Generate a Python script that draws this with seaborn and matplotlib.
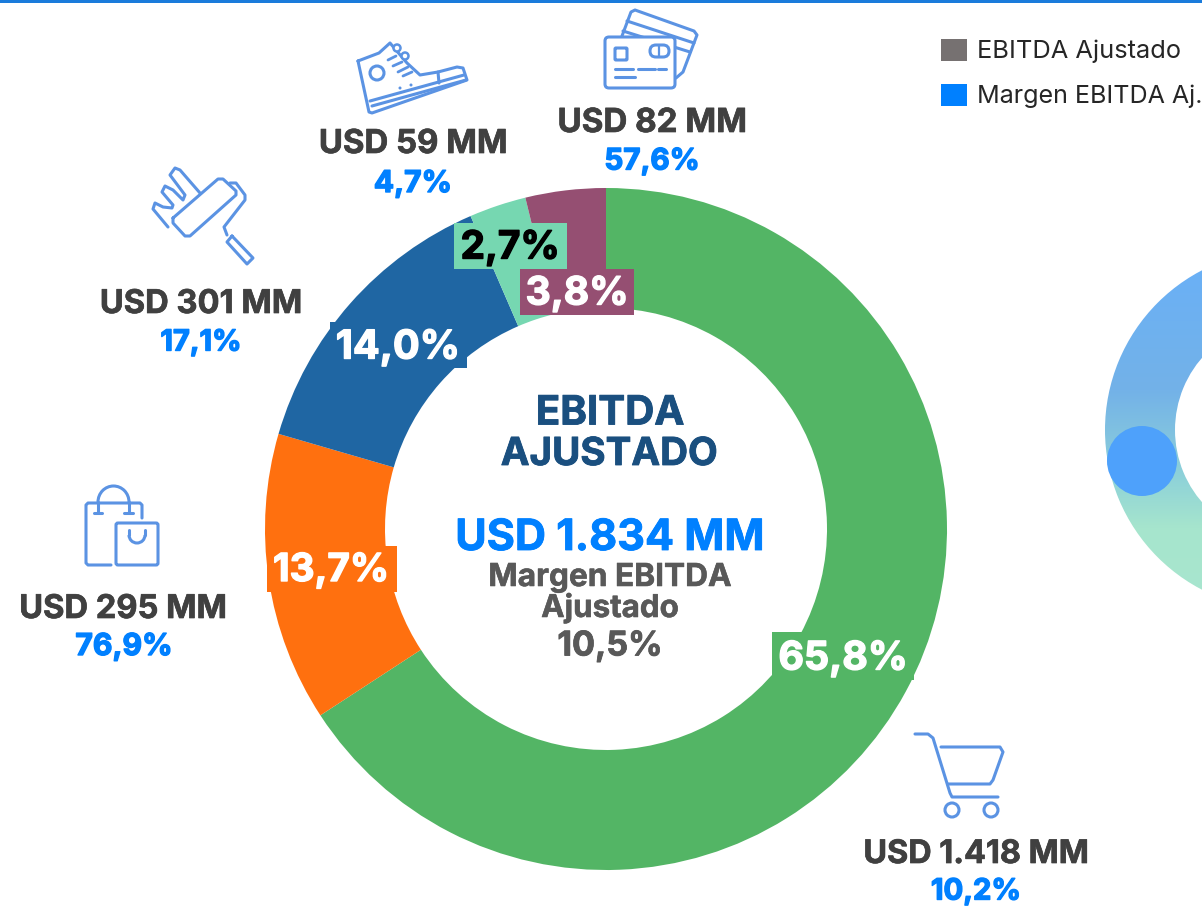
import numpy as np
import matplotlib.pyplot as plt
import matplotlib.patheffects as pe
import seaborn as sns
from matplotlib.colors import LinearSegmentedColormap
from matplotlib.patches import Arc, Circle, Rectangle, Wedge, FancyBboxPatch

sns.set_theme(style="white")
plt.rcParams['font.family'] = ['Inter', 'DejaVu Sans']

# Data
segments = ["Supermercados", "Tiendas", "Mejoramiento", "Calzado", "Financiero"]
share = [65.8, 13.7, 14.0, 2.7, 3.8]
share_labels = ["65,8%", "13,7%", "14,0%", "2,7%", "3,8%"]
ebitda_labels = ["USD 1.418 MM", "USD 295 MM", "USD 301 MM", "USD 59 MM", "USD 82 MM"]
margin_labels = ["10,2%", "76,9%", "17,1%", "4,7%", "57,6%"]
colors = sns.color_palette(["#53b565", "#ff700f", "#1f66a3", "#76d7b1", "#954f72"])
legend_names = ["EBITDA Ajustado", "Margen EBITDA Aj."]
legend_colors = ["#767171", "#0080ff"]

DARK = "#404040"
BLUE = "#0080ff"
ICON = "#5b93e3"

fig = plt.figure(figsize=(12.02, 9.06), dpi=100)
ax = fig.add_axes([0, 0, 1, 1])

# gradient ring cut by the right edge
ramp = np.linspace(0, 1, 256).reshape(-1, 1)
cmap = LinearSegmentedColormap.from_list(
    "ring", [(0, "#69b0f8"), (0.38, "#73b2e8"), (0.62, "#8fd3d8"), (0.75, "#a6e5cd"), (1, "#a9e6cf")])
img = ax.imshow(ramp, cmap=cmap, extent=(1100, 1202, 620, 250), aspect="auto", zorder=1)
ring = Wedge((1285, 430), 180, 0, 360, width=70, transform=ax.transData, fc="none", ec="none")
ax.add_patch(ring)
img.set_clip_path(ring)
ax.add_patch(Circle((1142, 461), 35, fc="#4ea1fb", ec="none", zorder=2))

# donut, y axis is flipped so it runs counterclock from -90
ax.pie(
    share,
    colors=colors,
    startangle=-90,
    counterclock=True,
    center=(606, 529),
    radius=341,
    wedgeprops=dict(width=120, linewidth=0, zorder=3),
    frame=True,
)

ax.set_xlim(0, 1202)
ax.set_ylim(906, 0)
ax.set_aspect("auto")
ax.axis("off")

# top line
ax.add_patch(Rectangle((0, 0), 1202, 3, fc="#1a7bdb", ec="none", zorder=5))


def fit_text(x, y, s, width, color, heavy=0.0):
    t = ax.text(x, y - 1, s, ha="center", va="center_baseline", color=color, weight="bold",
                fontsize=20, zorder=8)
    bb = t.get_window_extent(fig.canvas.get_renderer())
    t.set_fontsize(20 * width / bb.width)
    if heavy:
        t.set_path_effects([pe.withStroke(linewidth=heavy, foreground=color)])
    return t


# share labels with boxes
boxes = [(772, 632, 142, 48), (267, 546, 130, 46), (330, 322, 137, 46), (454, 223, 113, 46), (520, 269, 114, 46)]
label_xy = [(843, 656), (331, 568), (398, 345), (510, 245), (577, 291)]
label_w = [129, 116, 124, 99, 103]
label_col = ["white", "white", "white", "black", "white"]
for lab, box, xy, w, col, fill in zip(share_labels, boxes, label_xy, label_w, label_col, colors):
    ax.add_patch(Rectangle(box[:2], box[2], box[3], fc=fill, ec="none", zorder=6))
    fit_text(xy[0], xy[1], lab, w, col, heavy=1.0)

# outer labels
ebitda_xy = [(976, 852), (123, 607), (201, 302), (413, 142), (652, 121)]
ebitda_w = [226, 208, 203, 189, 190]
margin_xy = [(976, 890), (124, 645), (201, 341), (413, 182), (652, 160)]
margin_w = [90, 97, 81, 78, 95]
for lab, xy, w in zip(ebitda_labels, ebitda_xy, ebitda_w):
    fit_text(xy[0], xy[1], lab, w, DARK, heavy=0.5)
for lab, xy, w in zip(margin_labels, margin_xy, margin_w):
    fit_text(xy[0], xy[1], lab, w, BLUE, heavy=1.0)

# centre text
fit_text(610, 411, "EBITDA", 149, "#1a4f7f", heavy=0.6)
fit_text(609, 452, "AJUSTADO", 217, "#1a4f7f", heavy=0.6)
fit_text(610, 535, "USD 1.834 MM", 310, BLUE, heavy=0.6)
fit_text(610, 575, "Margen EBITDA", 244, "#595959", heavy=0.4)
fit_text(610, 606, "Ajustado", 138, "#595959", heavy=0.4)
fit_text(610, 644, "10,5%", 105, "#595959", heavy=0.6)

# legend
legend_y = [50, 95]
legend_w = [204, 226]
for name, col, y, w in zip(legend_names, legend_colors, legend_y, legend_w):
    ax.add_patch(Rectangle((941, y - 11), 26, 22, fc=col, ec="none", zorder=6))
    t = ax.text(977, y - 1, name, ha="left", va="center_baseline", fontsize=17, color="#262626", zorder=8)
    bb = t.get_window_extent(fig.canvas.get_renderer())
    t.set_fontsize(17 * w / bb.width)


# icons
def stroke(pts, lw=2.2):
    ax.plot(*zip(*pts), color=ICON, lw=lw, solid_capstyle="round", solid_joinstyle="round", zorder=7)


def round_box(x, y, w, h, r=3, lw=2.2):
    ax.add_patch(FancyBboxPatch((x, y), w, h, boxstyle=f"round,pad=0,rounding_size={r}",
                                fc="white", ec=ICON, lw=lw, zorder=7))


def ring_mark(x, y, r, lw=2.2):
    ax.add_patch(Circle((x, y), r, fc="white", ec=ICON, lw=lw, zorder=7))


# cart
stroke([(915, 734), (928, 734), (933, 738), (950, 793), (952, 797), (998, 797)])
stroke([(941, 747), (1000, 747), (1003, 752), (993, 780), (990, 784), (948, 784)])
ring_mark(952, 810, 7)
ring_mark(991, 810, 7)

# cards
stroke([(622, 36), (631, 12), (635, 10), (694, 31), (697, 35), (683, 72), (676, 78)])
stroke([(627, 21), (694, 43)])
stroke([(623, 31), (690, 52)])
round_box(605, 37, 70, 51, 4)
round_box(615, 48, 12, 12, 1)
round_box(650, 45, 19, 12, 6)
stroke([(659, 46), (659, 56)], 1.6)
stroke([(615, 69), (633, 69)])
stroke([(638, 69), (655, 69)])
stroke([(658, 69), (666, 69)])
stroke([(615, 77), (635, 77)])

# shoe
stroke([(358, 61), (379, 53), (390, 43), (407, 63), (420, 75), (438, 72), (457, 67), (463, 68), (467, 80),
        (372, 113), (369, 112), (358, 61)])
ring_mark(377, 73, 7)
stroke([(370, 101), (464, 75)])
stroke([(372, 106), (466, 80)])
stroke([(438, 72), (439, 83)])
stroke([(388, 60), (396, 56)], 2)
stroke([(393, 66), (402, 62)], 2)
stroke([(398, 72), (408, 67)], 2)
stroke([(403, 76), (412, 72)], 2)
ax.add_patch(Circle((397, 48), 3.5, fc="white", ec=ICON, lw=1.8, zorder=7))
ax.add_patch(Circle((405, 56), 3.5, fc="white", ec=ICON, lw=1.8, zorder=7))
ax.add_patch(Circle((400, 88), 1.5, fc=ICON, ec="none", zorder=7))
ax.add_patch(Circle((411, 85), 1.5, fc=ICON, ec="none", zorder=7))

# roller
stroke([(168, 227), (153, 209), (155, 203), (163, 207), (172, 208), (173, 205), (162, 192), (165, 186), (173, 190),
        (183, 200), (185, 195), (170, 175), (175, 168), (180, 170), (200, 193)])
stroke([(173, 218), (218, 179), (223, 179), (236, 191), (236, 195), (190, 236), (185, 236), (173, 223), (173, 218)])
stroke([(230, 183), (236, 183), (245, 195), (245, 200), (224, 227), (227, 235)])
stroke([(232, 236), (253, 258), (247, 264), (227, 242), (232, 236)])

# bags
stroke([(111, 565), (88, 565), (86, 563), (86, 505), (88, 503), (140, 503), (142, 505), (142, 518)])
ax.add_patch(Arc((113.5, 502), 31, 32, theta1=180, theta2=360, color=ICON, lw=2.2, zorder=7))
stroke([(98, 502), (98, 513)])
stroke([(129, 502), (129, 513)])
stroke([(94, 513), (102, 513)])
stroke([(124, 513), (133, 513)])
round_box(116, 523, 42, 42, 2)
stroke([(129, 530), (129, 535)])
stroke([(145, 530), (145, 535)])
ax.add_patch(Arc((137, 535), 16, 16, theta1=0, theta2=180, color=ICON, lw=2.2, zorder=7))

fig.savefig("out.png", dpi=100)
